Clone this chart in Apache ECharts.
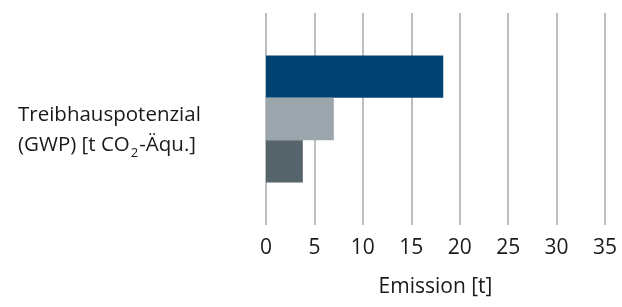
<!DOCTYPE html>
<html>
<head>
<meta charset="utf-8">
<script src="https://cdn.jsdelivr.net/npm/echarts@6/dist/echarts.min.js"></script>
<style>
  html, body { margin: 0; padding: 0; background: #fff; }
  #chart { width: 622px; height: 307px; }
</style>
</head>
<body>
<div id="chart"></div>
<script>
// chart data
const categories = ['Treibhauspotenzial\n(GWP) [t CO₂-Äqu.]'];
const seriesNames = ['Variante A', 'Variante B', 'Variante C'];
const seriesValues = [[18.3], [7.0], [3.8]];
const seriesColors = ['#004373', '#9aa5ac', '#56646b'];
const xTicks = [0, 5, 10, 15, 20, 25, 30, 35];

const chart = echarts.init(document.getElementById('chart'));
const textColor = '#1a1a1a';
const fontFamily = '"Open Sans", sans-serif';

const series = seriesNames.map((name, i) => ({
  name,
  type: 'bar',
  data: seriesValues[i],
  itemStyle: { color: seriesColors[i] },
  barGap: '0%',
  barCategoryGap: '40%',
  z: 3
}));

// turn "CO₂" into a real subscript, and push the block a bit below the bar centre
function yLabel(value) {
  const lines = value.split('\n').map(l => '{n|' + l.replace('₂', '}{s|2}{n|') + '}');
  return '{g| }\n' + lines.join('\n');
}

const option = {
  animation: false,
  grid: { left: 266, right: 17, top: 13, bottom: 82 },
  xAxis: {
    type: 'value',
    min: xTicks[0],
    max: xTicks[xTicks.length - 1],
    interval: 5,
    name: 'Emission [t]',
    nameLocation: 'middle',
    nameGap: 52,
    nameTextStyle: { color: textColor, fontSize: 21, fontFamily },
    axisLine: { show: false },
    axisTick: { show: false },
    axisLabel: { color: textColor, fontSize: 21, fontFamily, margin: 13 },
    splitLine: { show: true, lineStyle: { color: '#a9afb3', width: 1.6 } }
  },
  yAxis: {
    type: 'category',
    data: categories,
    axisLine: { show: false },
    axisTick: { show: false },
    axisLabel: {
      color: textColor,
      fontFamily,
      align: 'left',
      margin: 248,
      formatter: yLabel,
      rich: {
        g: { fontSize: 10, lineHeight: 22 },
        n: { color: textColor, fontFamily, fontSize: 20.5, lineHeight: 30 },
        s: { color: textColor, fontFamily, fontSize: 13, lineHeight: 30, verticalAlign: 'bottom', padding: [0, 1, 0, 1] }
      }
    }
  },
  series
};

chart.setOption(option);
</script>
</body>
</html>
